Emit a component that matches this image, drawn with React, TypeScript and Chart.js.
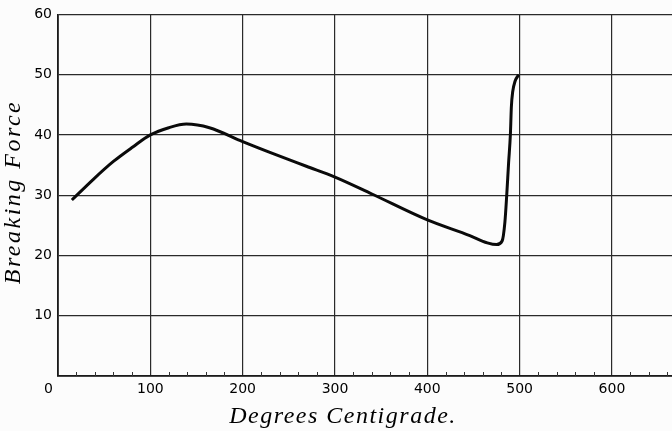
import React, { useEffect, useRef } from "react";
import { Chart, registerables } from "chart.js";

Chart.register(...registerables);

// Temperature (degrees Centigrade)
const temperatures = [15, 38, 60, 81, 100, 120, 139, 164, 200, 233, 269, 300, 340, 400, 446, 465, 475, 481, 484, 486, 488, 490, 491, 492.5, 495, 499];
// Breaking force
const breakingForce = [29.2, 32.6, 35.6, 38.0, 40.0, 41.2, 41.8, 41.2, 38.9, 36.9, 34.8, 33.0, 30.2, 25.9, 23.3, 22.1, 21.8, 22.4, 25.5, 30.0, 35.3, 40.2, 44.6, 47.2, 48.9, 50.0];

const xTickValues = [0, 100, 200, 300, 400, 500, 600];
const xMinorTickValues = [20, 40, 60, 80, 120, 140, 160, 180, 220, 240, 260, 280, 320, 340, 360, 380, 420, 440, 460, 480, 520, 540, 560, 580, 620, 640, 660];
const yTickValues = [0, 10, 20, 30, 40, 50, 60];
const xTitle = "Degrees Centigrade.";
const yTitle = "Breaking Force";
const zeroLabel = "0";

const tickFont = { family: "'DejaVu Sans', sans-serif", size: 14 };
const titleFont = "italic 24px 'Liberation Serif', serif";

export default function App() {
  const ref = useRef<HTMLCanvasElement>(null);

  useEffect(() => {
    const canvas = ref.current;
    if (!canvas) return;

    const decor = {
      id: "decor",
      afterDraw(chart: any) {
        const { ctx, chartArea, scales } = chart;
        const xs = scales.x;
        const ys = scales.y;
        ctx.save();
        // minor ticks along the bottom axis
        ctx.strokeStyle = "#333";
        ctx.lineWidth = 1;
        for (const v of xMinorTickValues) {
          const px = Math.round(xs.getPixelForValue(v)) + 0.5;
          ctx.beginPath();
          ctx.moveTo(px, chartArea.bottom);
          ctx.lineTo(px, chartArea.bottom - 4);
          ctx.stroke();
        }
        // origin label
        ctx.fillStyle = "#000";
        ctx.font = "14px 'DejaVu Sans', sans-serif";
        ctx.textAlign = "right";
        ctx.textBaseline = "top";
        ctx.fillText(zeroLabel, xs.getPixelForValue(0) - 5, ys.getPixelForValue(0) + 6);

        // axis titles
        ctx.font = titleFont;
        (ctx as any).letterSpacing = "1.5px";
        ctx.textAlign = "center";
        ctx.textBaseline = "alphabetic";
        ctx.fillText(xTitle, 343, 423);

        (ctx as any).letterSpacing = "2.5px";
        ctx.translate(20, 192);
        ctx.rotate(-Math.PI / 2);
        ctx.fillText(yTitle, 0, 0);
        ctx.restore();
      },
    };

    const chart = new Chart(canvas, {
      type: "line",
      data: {
        datasets: [
          {
            data: temperatures.map((t, i) => ({ x: t, y: breakingForce[i] })),
            borderColor: "#0a0a0a",
            borderWidth: 3,
            pointRadius: 0,
            fill: false,
            cubicInterpolationMode: "monotone",
          },
        ],
      },
      options: {
        animation: false,
        responsive: false,
        maintainAspectRatio: false,
        layout: { padding: { top: 9, right: 0, left: 0, bottom: 0 } },
        plugins: {
          legend: { display: false },
          tooltip: { enabled: false },
        },
        scales: {
          x: {
            type: "linear",
            min: 0,
            max: 665,
            afterBuildTicks: (s: any) => {
              s.ticks = xTickValues.map((v) => ({ value: v }));
            },
            afterFit: (s: any) => {
              s.height = 55;
            },
            grid: { color: "#2a2a2a", lineWidth: 1.2, drawTicks: false },
            border: { color: "#1a1a1a", width: 1.8 },
            ticks: {
              padding: 5,
              color: "#000",
              font: tickFont,
              maxRotation: 0,
              autoSkip: false,
              callback: (v: any) => (v === 0 ? "" : String(v)),
            },
          },
          y: {
            type: "linear",
            min: 0,
            max: 60,
            afterBuildTicks: (s: any) => {
              s.ticks = yTickValues.map((v) => ({ value: v }));
            },
            afterFit: (s: any) => {
              s.width = 58;
            },
            grid: { color: "#2a2a2a", lineWidth: 1.2, drawTicks: false },
            border: { color: "#1a1a1a", width: 1.8 },
            ticks: {
              padding: 6,
              color: "#000",
              font: tickFont,
              callback: (v: any) => (v === 0 ? "" : String(v)),
            },
          },
        },
      },
      plugins: [decor],
    } as any);

    return () => chart.destroy();
  }, []);

  return (
    <div style={{ position: "fixed", left: 0, top: 0, width: 672, height: 431, background: "#fcfcfc" }}>
      <canvas ref={ref} width={672} height={431} style={{ display: "block", width: 672, height: 431 }} />
    </div>
  );
}
